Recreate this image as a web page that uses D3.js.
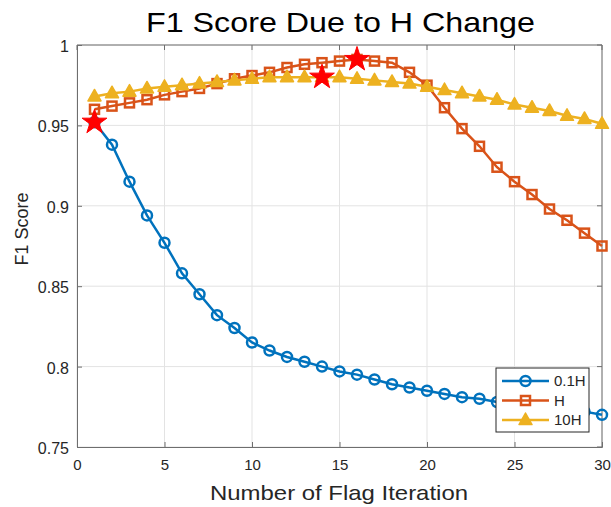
<!DOCTYPE html>
<html>
<head>
<meta charset="utf-8">
<script src="https://cdn.jsdelivr.net/npm/d3@7"></script>
<style>
  body { margin: 0; background: #fff; }
  svg text { font-family: "Liberation Sans", Arial, Helvetica, sans-serif; fill: #262626; }
</style>
</head>
<body>
<div id="chart"></div>
<script>
"use strict";

// data
var iterations = d3.range(1, 31);
var f1_01H = [0.952, 0.938, 0.915, 0.894, 0.877, 0.858, 0.845, 0.832, 0.824, 0.815,
              0.810, 0.806, 0.803, 0.800, 0.797, 0.795, 0.792, 0.789, 0.787, 0.785,
              0.783, 0.781, 0.780, 0.778, 0.777, 0.775, 0.774, 0.773, 0.772, 0.770];
var f1_H =   [0.960, 0.962, 0.964, 0.966, 0.969, 0.971, 0.973, 0.976, 0.979, 0.981,
              0.983, 0.986, 0.988, 0.989, 0.990, 0.991, 0.990, 0.989, 0.983, 0.975,
              0.961, 0.948, 0.937, 0.924, 0.915, 0.907, 0.898, 0.891, 0.883, 0.875];
var f1_10H = [0.968, 0.970, 0.971, 0.973, 0.974, 0.975, 0.976, 0.977, 0.978, 0.979,
              0.980, 0.980, 0.980, 0.980, 0.980, 0.979, 0.978, 0.977, 0.976, 0.974,
              0.972, 0.970, 0.968, 0.966, 0.963, 0.961, 0.959, 0.956, 0.954, 0.951];
var seriesNames = ["0.1H", "H", "10H"];
var seriesColors = ["#0072BD", "#D95319", "#EDB120"];
var bestX = [1, 16, 14];
var bestY = [0.952, 0.991, 0.980];
var xTicks = [0, 5, 10, 15, 20, 25, 30];
var yTicks = [0.75, 0.8, 0.85, 0.9, 0.95, 1];

var W = 611, H = 507;
var margin = {top: 45, right: 9, bottom: 60, left: 77};
var axisColor = "#6e6e6e";

var svg = d3.select("#chart").append("svg")
    .attr("width", W).attr("height", H);

var x = d3.scaleLinear().domain([0, 30]).range([margin.left, W - margin.right]);
var y = d3.scaleLinear().domain([0.75, 1]).range([H - margin.bottom, margin.top]);

// grid
svg.append("g").selectAll("line")
    .data(xTicks).enter().append("line")
    .attr("x1", function(d){ return x(d); }).attr("x2", function(d){ return x(d); })
    .attr("y1", y(0.75)).attr("y2", y(1))
    .attr("stroke", "#e3e3e3").attr("stroke-width", 1);
svg.append("g").selectAll("line")
    .data(yTicks).enter().append("line")
    .attr("y1", function(d){ return y(d); }).attr("y2", function(d){ return y(d); })
    .attr("x1", x(0)).attr("x2", x(30))
    .attr("stroke", "#e3e3e3").attr("stroke-width", 1);

// axes (ticks inward)
var xAxis = svg.append("g")
    .attr("transform", "translate(0," + y(0.75) + ")")
    .call(d3.axisBottom(x).tickValues(xTicks).tickSize(-5).tickPadding(12).tickFormat(d3.format("d")));
var yAxis = svg.append("g")
    .attr("transform", "translate(" + x(0) + ",0)")
    .call(d3.axisLeft(y).tickValues(yTicks).tickSize(-5).tickPadding(8).tickFormat(function(d){ return String(+d.toFixed(2)); }));
[xAxis, yAxis].forEach(function(a){
  a.select(".domain").attr("stroke", axisColor);
  a.selectAll(".tick line").attr("stroke", axisColor);
  a.selectAll(".tick text").attr("fill", "#333");
});
xAxis.selectAll(".tick text").style("font-size", "15px");
yAxis.selectAll(".tick text").style("font-size", "16px").attr("dy", "0.4em");

// top + right frame
svg.append("line").attr("x1", x(0)).attr("x2", x(30)).attr("y1", y(1)).attr("y2", y(1)).attr("stroke", axisColor);
svg.append("line").attr("x1", x(30)).attr("x2", x(30)).attr("y1", y(1)).attr("y2", y(0.75)).attr("stroke", axisColor);
svg.append("g").selectAll("line")
    .data(xTicks).enter().append("line")
    .attr("x1", function(d){ return x(d); }).attr("x2", function(d){ return x(d); })
    .attr("y1", y(1)).attr("y2", y(1) + 5).attr("stroke", axisColor);
svg.append("g").selectAll("line")
    .data(yTicks).enter().append("line")
    .attr("y1", function(d){ return y(d); }).attr("y2", function(d){ return y(d); })
    .attr("x1", x(30)).attr("x2", x(30) - 5).attr("stroke", axisColor);

// markers
function marker(kind, sel, color) {
  if (kind === 0) {
    sel.append("circle").attr("r", 5).attr("fill", "none")
      .attr("stroke", color).attr("stroke-width", 2.5);
  } else if (kind === 1) {
    sel.append("rect").attr("x", -4.5).attr("y", -4.5).attr("width", 9).attr("height", 9)
      .attr("fill", "none").attr("stroke", color).attr("stroke-width", 2.5);
  } else {
    sel.append("path").attr("d", "M0,-7L6.5,4.5L-6.5,4.5Z")
      .attr("fill", color).attr("stroke", color).attr("stroke-width", 1.5).attr("stroke-linejoin", "round");
  }
}

var allSeries = [f1_01H, f1_H, f1_10H];
var line = d3.line()
    .x(function(d, i){ return x(iterations[i]); })
    .y(function(d){ return y(d); });

var plot = svg.append("g");
allSeries.forEach(function(vals, k){
  plot.append("path").datum(vals)
    .attr("d", line)
    .attr("fill", "none")
    .attr("stroke", seriesColors[k])
    .attr("stroke-width", 2.5);
  plot.selectAll("g.m" + k).data(vals).enter().append("g")
    .attr("class", "m" + k)
    .attr("transform", function(d, i){ return "translate(" + x(iterations[i]) + "," + y(d) + ")"; })
    .each(function(){ marker(k, d3.select(this), seriesColors[k]); });
});

// best points (stars)
plot.selectAll("path.star").data(bestX).enter().append("path")
    .attr("class", "star")
    .attr("d", d3.symbol().type(d3.symbolStar).size(190))
    .attr("transform", function(d, i){ return "translate(" + x(d) + "," + y(bestY[i]) + ")"; })
    .attr("fill", "#ff0000").attr("stroke", "#ff0000").attr("stroke-width", 1);

// legend
var lg = svg.append("g").attr("transform", "translate(496,368)");
lg.append("rect").attr("width", 93).attr("height", 64)
  .attr("fill", "#fff").attr("stroke", "#262626").attr("stroke-width", 1);
seriesNames.forEach(function(name, k){
  var row = lg.append("g").attr("transform", "translate(0," + (13 + k * 19.5) + ")");
  row.append("line").attr("x1", 6).attr("x2", 53).attr("y1", 0).attr("y2", 0)
    .attr("stroke", seriesColors[k]).attr("stroke-width", 2.5);
  var mk = row.append("g").attr("transform", "translate(29.5,0)");
  marker(k, mk, seriesColors[k]);
  row.append("text").attr("x", 58).attr("y", 0).attr("dy", "0.36em")
    .style("font-size", "15px").text(name);
});

// titles
svg.append("text").attr("x", 340.5).attr("y", 32)
  .attr("text-anchor", "middle").style("font-size", "28px").style("fill", "#000")
  .attr("textLength", 389).attr("lengthAdjust", "spacingAndGlyphs")
  .text("F1 Score Due to H Change");
svg.append("text").attr("x", 339).attr("y", 500)
  .attr("text-anchor", "middle").style("font-size", "21px")
  .attr("textLength", 258).attr("lengthAdjust", "spacingAndGlyphs")
  .text("Number of Flag Iteration");
svg.append("text").attr("transform", "translate(28,229) rotate(-90)")
  .attr("text-anchor", "middle").style("font-size", "18px").text("F1 Score");
</script>
</body>
</html>
